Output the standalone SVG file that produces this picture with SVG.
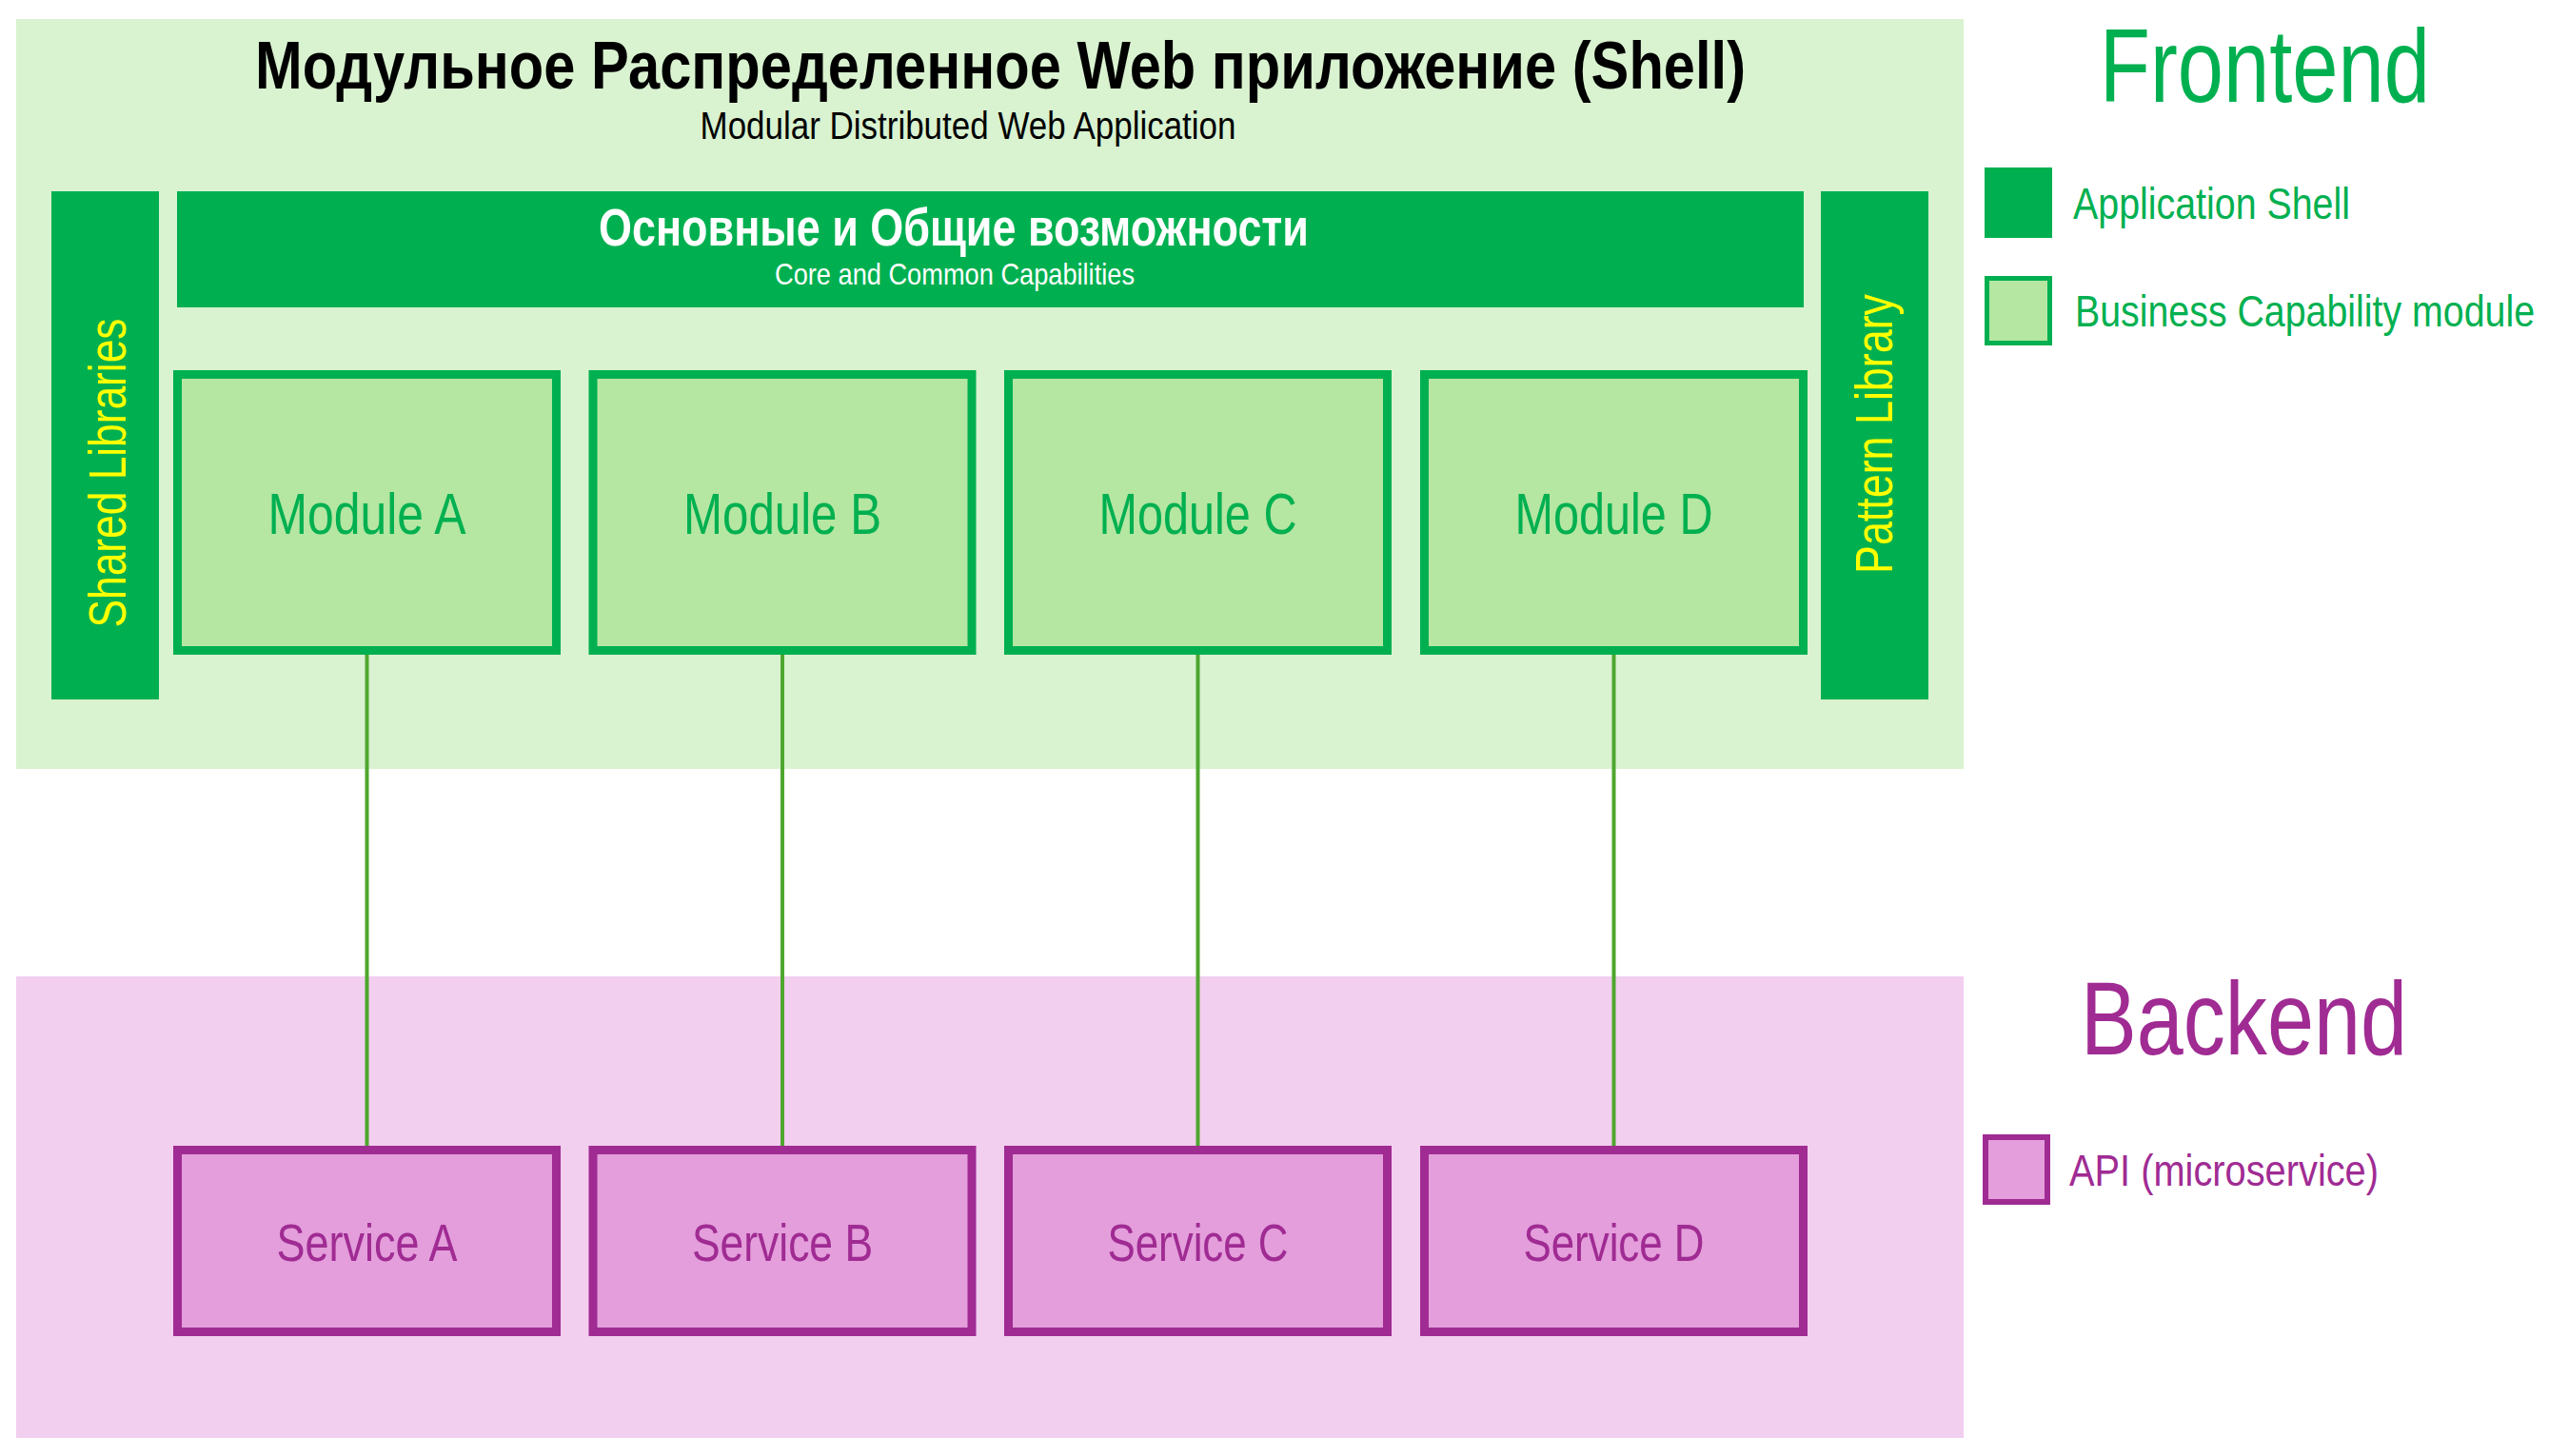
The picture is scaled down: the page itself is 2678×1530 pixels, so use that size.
<svg xmlns="http://www.w3.org/2000/svg" width="2678" height="1530" viewBox="0 0 2678 1530">
<style>
text{font-family:"Liberation Sans Narrow","Liberation Sans",Arial,sans-serif}
.t{lengthAdjust:spacingAndGlyphs}
.mod{fill:#B5E6A2;stroke:#00B050;stroke-width:9}
.modt{fill:#00B050;font-size:61px;text-anchor:middle}
.svc{fill:#E39EDB;stroke:#A02B93;stroke-width:9}
.svct{fill:#A02B93;font-size:56px;text-anchor:middle}
.bar{fill:#00B050}
.yel{fill:#FFFF00;font-size:56px;text-anchor:middle}
.conn{stroke:#4EA72E;stroke-width:4;fill:none}
</style>
<rect width="2678" height="1530" fill="#FFFFFF"/>
<g id="frontend-area">
<rect x="17" y="20" width="2046" height="788" fill="#D9F2D0"/>
<text x="1051" y="93" font-size="70" font-weight="bold" text-anchor="middle" fill="#000" textLength="1566" lengthAdjust="spacingAndGlyphs">Модульное Распределенное Web приложение (Shell)</text>
<text x="1017" y="146" font-size="40" text-anchor="middle" fill="#000" textLength="563" lengthAdjust="spacingAndGlyphs">Modular Distributed Web Application</text>
</g>
<g id="backend-area">
<rect x="17" y="1026" width="2046" height="485" fill="#F2CEEF"/>
</g>
<g id="core">
<rect class="bar" x="186" y="201" width="1709" height="122"/>
<text x="1002" y="258" font-size="55" font-weight="bold" text-anchor="middle" fill="#FFFFFF" textLength="746" lengthAdjust="spacingAndGlyphs">Основные и Общие возможности</text>
<text x="1003" y="299" font-size="32" text-anchor="middle" fill="#FFFFFF" textLength="378" lengthAdjust="spacingAndGlyphs">Core and Common Capabilities</text>
</g>
<g id="shared-libraries">
<rect class="bar" x="54" y="201" width="113" height="534"/>
<text class="yel" transform="translate(132,497) rotate(-90)" x="0" y="0" textLength="325" lengthAdjust="spacingAndGlyphs">Shared Libraries</text>
</g>
<g id="pattern-library">
<rect class="bar" x="1913" y="201" width="113" height="534"/>
<text class="yel" transform="translate(1988,456) rotate(-90)" x="0" y="0" textLength="294" lengthAdjust="spacingAndGlyphs">Pattern Library</text>
</g>
<g id="connectors">
<line class="conn" x1="385.5" y1="684" x2="385.5" y2="1209"/>
<line class="conn" x1="822" y1="684" x2="822" y2="1209"/>
<line class="conn" x1="1258.5" y1="684" x2="1258.5" y2="1209"/>
<line class="conn" x1="1695.5" y1="684" x2="1695.5" y2="1209"/>
</g>
<g id="module-a">
<rect class="mod" x="186.5" y="393.5" width="398" height="290"/>
<text class="modt" x="385.5" y="561" textLength="208" lengthAdjust="spacingAndGlyphs">Module A</text>
</g>
<g id="module-b">
<rect class="mod" x="623" y="393.5" width="398" height="290"/>
<text class="modt" x="822" y="561" textLength="208" lengthAdjust="spacingAndGlyphs">Module B</text>
</g>
<g id="module-c">
<rect class="mod" x="1059.5" y="393.5" width="398" height="290"/>
<text class="modt" x="1258.5" y="561" textLength="208" lengthAdjust="spacingAndGlyphs">Module C</text>
</g>
<g id="module-d">
<rect class="mod" x="1496.5" y="393.5" width="398" height="290"/>
<text class="modt" x="1695.5" y="561" textLength="208" lengthAdjust="spacingAndGlyphs">Module D</text>
</g>
<g id="service-a">
<rect class="svc" x="186.5" y="1208.5" width="398" height="191"/>
<text class="svct" x="385.5" y="1325" textLength="190" lengthAdjust="spacingAndGlyphs">Service A</text>
</g>
<g id="service-b">
<rect class="svc" x="623" y="1208.5" width="398" height="191"/>
<text class="svct" x="822" y="1325" textLength="190" lengthAdjust="spacingAndGlyphs">Service B</text>
</g>
<g id="service-c">
<rect class="svc" x="1059.5" y="1208.5" width="398" height="191"/>
<text class="svct" x="1258.5" y="1325" textLength="190" lengthAdjust="spacingAndGlyphs">Service C</text>
</g>
<g id="service-d">
<rect class="svc" x="1496.5" y="1208.5" width="398" height="191"/>
<text class="svct" x="1695.5" y="1325" textLength="190" lengthAdjust="spacingAndGlyphs">Service D</text>
</g>
<g id="legend-frontend">
<text x="2206" y="107" font-size="109" fill="#00B050" textLength="347" lengthAdjust="spacingAndGlyphs">Frontend</text>
<rect x="2085" y="176" width="71" height="74" fill="#00B050"/>
<text x="2178" y="230" font-size="46" fill="#00B050" textLength="291" lengthAdjust="spacingAndGlyphs">Application Shell</text>
<rect x="2087.5" y="292.5" width="66" height="68" fill="#B5E6A2" stroke="#00B050" stroke-width="5"/>
<text x="2180" y="343" font-size="46" fill="#00B050" textLength="483" lengthAdjust="spacingAndGlyphs">Business Capability module</text>
</g>
<g id="legend-backend">
<text x="2186" y="1108" font-size="109" fill="#A02B93" textLength="343" lengthAdjust="spacingAndGlyphs">Backend</text>
<rect x="2086" y="1195" width="65" height="68" fill="#E39EDB" stroke="#A02B93" stroke-width="6"/>
<text x="2174" y="1246" font-size="47" fill="#A02B93" textLength="325" lengthAdjust="spacingAndGlyphs">API (microservice)</text>
</g>
</svg>
